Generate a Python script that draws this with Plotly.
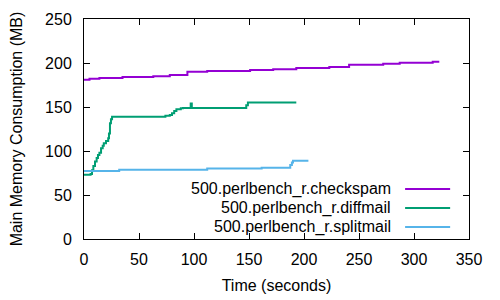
import plotly.graph_objects as go

# Data
checkspam_t = [0, 5, 14, 35, 63, 78, 94, 112, 151, 172, 193, 223, 241, 272, 287, 317, 323]
checkspam_mb = [181, 182, 183, 184, 185, 186.5, 190, 191, 192, 193, 194.3, 195.5, 198, 199.2, 200.4, 201.5, 201.5]

diffmail_t = [0, 5, 6, 7.3, 8.5, 10, 11.5, 12.7, 14, 15.5, 17, 18, 20, 22, 22.7, 23.6, 24.5, 25.5, 72.7, 74, 78, 80, 82, 84, 88, 90, 96, 97, 98, 99, 146.4, 147.5, 149, 193]
diffmail_mb = [73, 73, 74, 78, 83, 88, 92, 95.5, 98, 103, 106, 108.7, 111.5, 114.4, 120, 131.5, 136, 139, 139, 140, 141, 143, 145.5, 147.4, 148.5, 148.9, 148.9, 154, 149, 149, 149, 152, 155, 155]

splitmail_t = [0, 32, 112, 161.5, 186, 187.5, 189, 190, 204]
splitmail_mb = [77.3, 78.8, 80, 81, 81, 84, 87, 89, 89]

names = ["500.perlbench_r.checkspam", "500.perlbench_r.diffmail", "500.perlbench_r.splitmail"]
colors = ["#9400d3", "#009e73", "#56b4e9"]

x_ticks = [0, 50, 100, 150, 200, 250, 300, 350]
y_ticks = [0, 50, 100, 150, 200, 250]

FONT = "Liberation Sans, Arial, sans-serif"
FS = 16

fig = go.Figure()
fig.add_trace(go.Scatter(x=checkspam_t, y=checkspam_mb, mode="lines", line=dict(color=colors[0], width=2, shape="hv"), name=names[0], showlegend=False))
fig.add_trace(go.Scatter(x=diffmail_t, y=diffmail_mb, mode="lines", line=dict(color=colors[1], width=2, shape="hv"), name=names[1], showlegend=False))
fig.add_trace(go.Scatter(x=splitmail_t, y=splitmail_mb, mode="lines", line=dict(color=colors[2], width=2, shape="hv"), name=names[2], showlegend=False))

# Manual legend (text right-aligned, sample line to the right), as in gnuplot
legend_y = [0.227, 0.141, 0.0545]
for nm, col, ly in zip(names, colors, legend_y):
    fig.add_annotation(xref="paper", yref="paper", x=0.8026, y=ly, text=nm, showarrow=False,
                       xanchor="right", yanchor="middle", font=dict(family=FONT, size=FS, color="black"))
    fig.add_shape(type="line", xref="paper", yref="paper", x0=0.834, x1=0.951, y0=ly, y1=ly,
                  line=dict(color=col, width=2))

axis_common = dict(showline=True, linecolor="black", linewidth=1, mirror="ticks", ticks="inside",
                   ticklen=6, tickcolor="black", tickwidth=1, showgrid=False, zeroline=False,
                   automargin=False, tickfont=dict(family=FONT, size=FS, color="black"))

fig.update_layout(
    width=500, height=300,
    margin=dict(l=84, r=31, t=19, b=61),
    paper_bgcolor="white", plot_bgcolor="white",
    font=dict(family=FONT, size=FS, color="black"),
    hovermode=False,
    xaxis=dict(range=[0, 350], tickvals=x_ticks, ticktext=[str(v) for v in x_ticks],
               title=dict(text="Time (seconds)", font=dict(family=FONT, size=FS), standoff=12),
               ticklabelstandoff=6, **axis_common),
    yaxis=dict(range=[0, 250], tickvals=y_ticks, ticktext=[str(v) for v in y_ticks],
               title=dict(text="Main Memory Consumption (MB)", font=dict(family=FONT, size=FS), standoff=18),
               ticklabelstandoff=8, **axis_common),
)

fig.write_html("out.html", config={"displayModeBar": False},
               post_script="document.body.style.margin='0';document.body.style.overflow='hidden';")
